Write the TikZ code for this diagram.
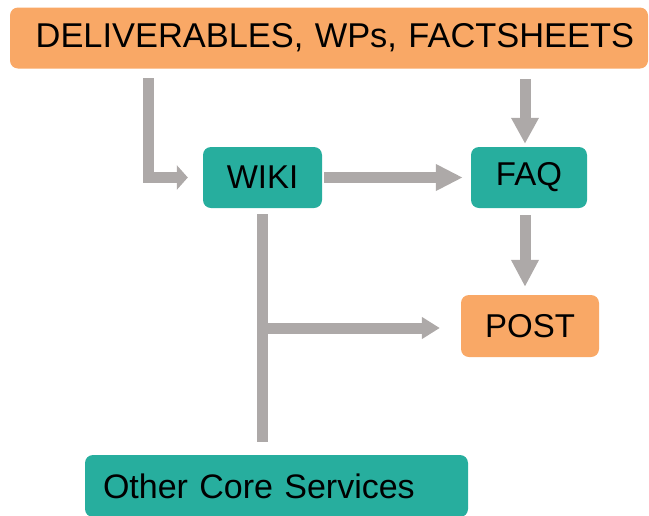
\documentclass[tikz,border=0pt]{standalone}
\usepackage{fontspec}
\setmainfont{Liberation Sans}
\usetikzlibrary{arrows.meta}
\definecolor{boxorange}{HTML}{F9A866}
\definecolor{boxteal}{HTML}{27AE9E}
\definecolor{linkgray}{HTML}{ADA9A8}

\begin{document}
\begin{tikzpicture}[x=1pt, y=-1pt,
  box/.style={rounded corners=8pt, inner sep=0pt, text=black, font=\fontsize{33}{40}\selectfont},
  orangebox/.style={box, fill=boxorange},
  tealbox/.style={box, fill=boxteal},
  link/.style={draw=linkgray, line width=11pt}]
  \useasboundingbox (0,0) rectangle (649,515);

  % boxes
  \node[orangebox, minimum width=638pt, minimum height=61pt, text width=610pt, align=right, inner xsep=14pt, font=\fontsize{34.4}{40}\selectfont] (src) at (329,38) {DELIVERABLES, WPs, FACTSHEETS}; % top
  \node[tealbox, minimum width=119pt, minimum height=61pt] (wiki) at (262.5,177.5) {WIKI}; % middle-left
  \node[tealbox, minimum width=116pt, minimum height=61pt] (faq) at (529,177.5) {FAQ}; % middle-right
  \node[orangebox, minimum width=138pt, minimum height=62pt] (post) at (530,326) {POST}; % right
  \node[tealbox, minimum width=383pt, minimum height=62pt, text width=347pt, inner xsep=18pt, align=left, font=\fontsize{34}{40}\selectfont] (other) at (276.5,486) {Other Core Services}; % bottom

  % connectors
  \coordinate (srcL) at (148,78);
  \coordinate (srcR) at (525,79);
  \coordinate (fork) at (262.5,328);
  \draw[link, -{Triangle[length=11pt,width=24pt]}] (srcL) |- ([xshift=-15pt]wiki.west); % down, then right
  \draw[link, -{Triangle[length=26pt,width=26pt]}, shorten >=3pt] (srcR) -- (srcR |- faq.north); % down to FAQ
  \draw[link, -{Triangle[length=27pt,width=25pt]}, shorten <=2pt, shorten >=8pt] (wiki.east) -- (faq.west); % WIKI to FAQ
  \draw[link, -{Triangle[length=27pt,width=26pt]}, shorten <=7pt, shorten >=8pt] (srcR |- faq.south) -- (srcR |- post.north); % FAQ to POST
  \draw[link, shorten <=6pt, shorten >=13pt] (wiki.south) -- (wiki.south |- other.north); % vertical trunk
  \draw[link, -{Triangle[length=18pt,width=21pt]}, shorten >=21pt] (fork) -- (fork -| post.west); % branch to POST
\end{tikzpicture}
\end{document}
